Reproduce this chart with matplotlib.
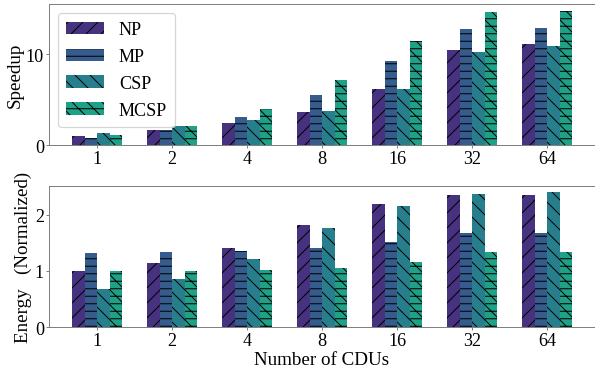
import numpy as np
import matplotlib.pyplot as plt

plt.rcParams['font.family'] = ['Liberation Serif', 'DejaVu Serif']
plt.rcParams['font.size'] = 14.5
plt.rcParams['hatch.linewidth'] = 0.8

# 数据
cdus = ['1', '2', '4', '8', '16', '32', '64']
schemes = ['NP', 'MP', 'CSP', 'MCSP']

speedup_np = [1.0, 1.65, 2.45, 3.65, 6.2, 10.45, 11.15]
speedup_mp = [0.8, 1.6, 3.1, 5.55, 9.25, 12.8, 12.85]
speedup_csp = [1.35, 2.1, 2.8, 3.75, 6.2, 10.2, 10.85]
speedup_mcsp = [1.1, 2.1, 4.0, 7.15, 11.45, 14.6, 14.7]

energy_np = [1.0, 1.14, 1.41, 1.81, 2.19, 2.34, 2.35]
energy_mp = [1.32, 1.34, 1.36, 1.40, 1.52, 1.68, 1.68]
energy_csp = [0.68, 0.85, 1.21, 1.76, 2.16, 2.37, 2.40]
energy_mcsp = [0.99, 1.0, 1.02, 1.05, 1.15, 1.34, 1.34]

colors = ['#46327e', '#365c8d', '#277f8e', '#1fa187']
hatches = ['//', '--', '\\\\', '--\\\\']

fig, (ax1, ax2) = plt.subplots(2, 1, figsize=(595 / 90, 371 / 90), dpi=90)
fig.subplots_adjust(left=0.0824, right=1.0, top=0.9865, bottom=0.115, hspace=0.293)

x = np.arange(len(cdus))
w = 1 / 6

def draw(ax, series, ylim, yticks):
    for i, vals in enumerate(series):
        ax.bar(x + (i - 1.5) * w, vals, w, color=colors[i], hatch=hatches[i],
               label=schemes[i])
    ax.set_xticks(x)
    ax.set_xticklabels(cdus)
    ax.set_xlim(-0.64, len(cdus) - 1 + 0.64)
    ax.set_ylim(*ylim)
    ax.set_yticks(yticks)
    ax.spines['right'].set_visible(False)
    for s in ['left', 'top', 'bottom']:
        ax.spines[s].set_color('#808080')
    ax.tick_params(color='#808080', length=2.5, pad=1.5)

draw(ax1, [speedup_np, speedup_mp, speedup_csp, speedup_mcsp], (0, 15.5), [0, 10])
ax1.set_ylabel('Speedup', fontsize=15.2, labelpad=1.5)
ax1.legend(loc='upper left', fontsize=14.5, handlelength=2.1, labelspacing=0.55,
           borderpad=0.45)

draw(ax2, [energy_np, energy_mp, energy_csp, energy_mcsp], (0, 2.5), [0, 1, 2])
ax2.set_ylabel('Energy   (Normalized)', fontsize=15.2, labelpad=2)
ax2.set_xlabel('Number of CDUs', fontsize=15.2, labelpad=1.5)

plt.savefig('out.png', dpi=90)
